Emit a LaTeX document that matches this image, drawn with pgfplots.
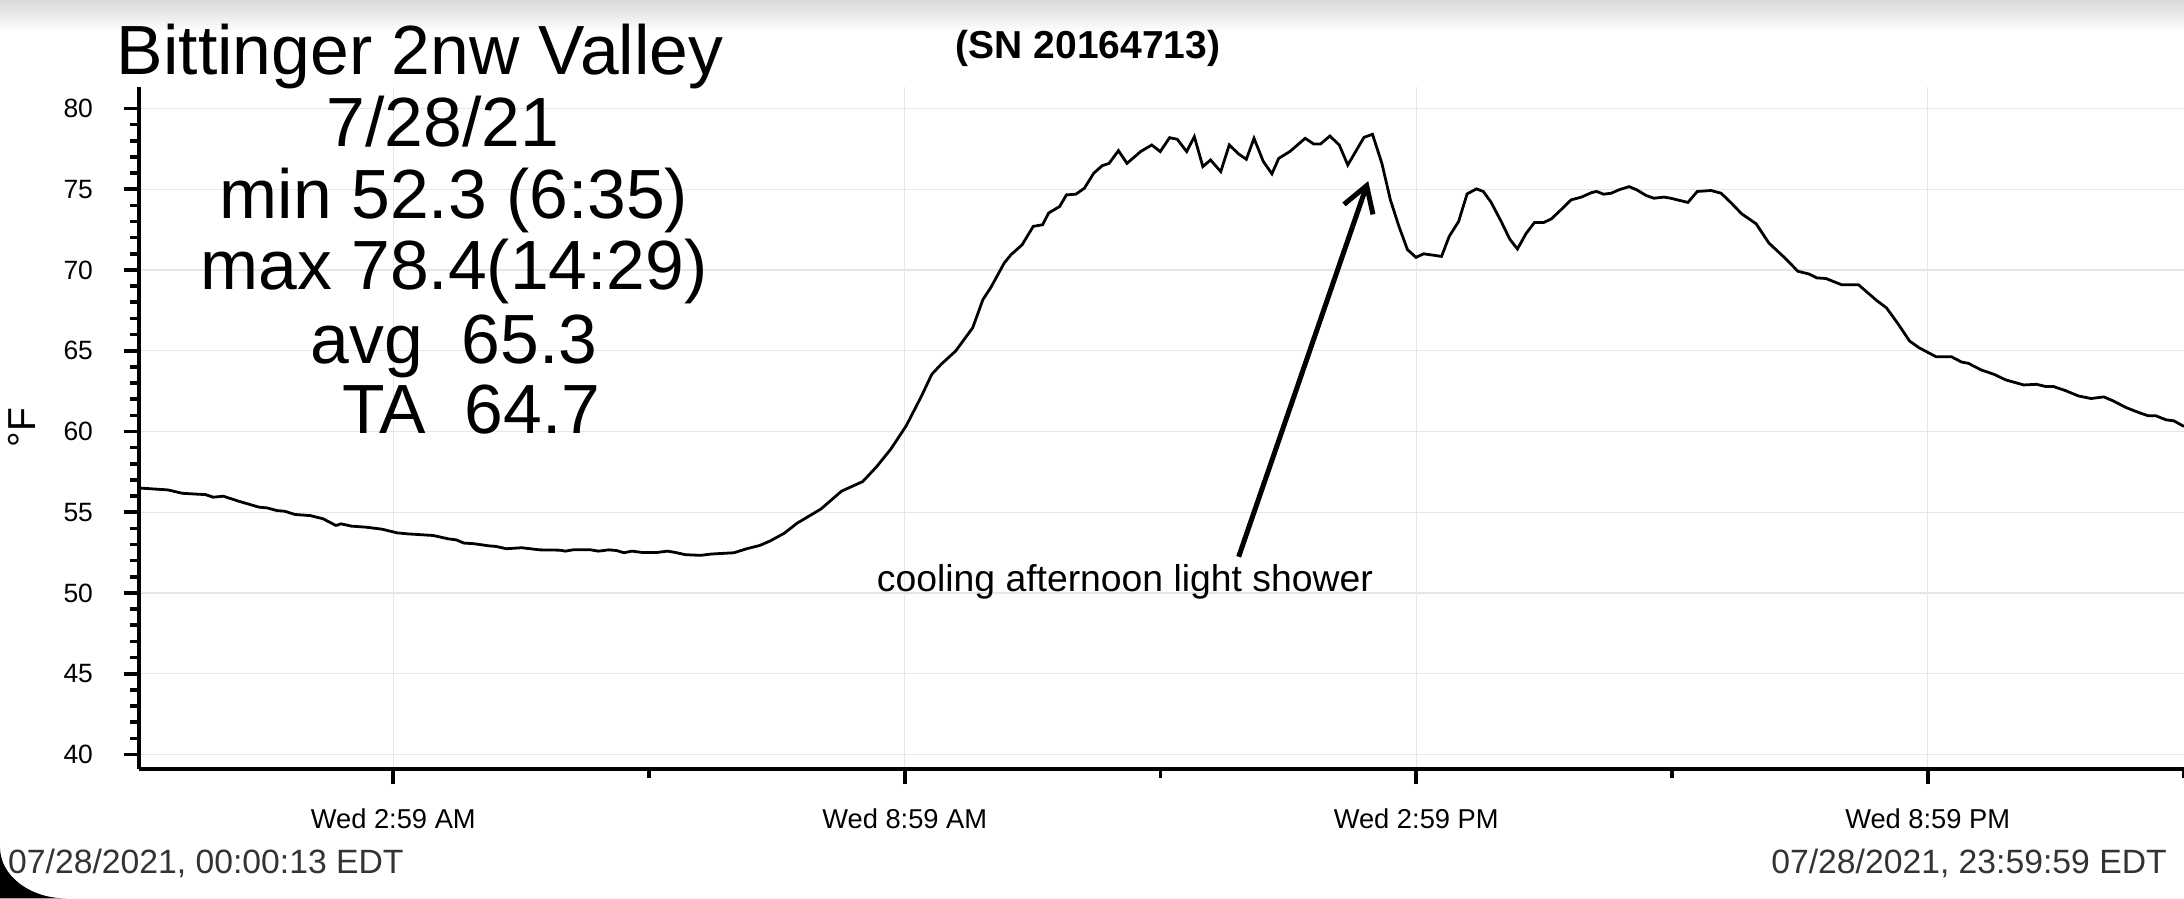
\documentclass[border=0pt]{standalone}
\usepackage{pgfplots}
\usepackage{pgfplotstable}
\pgfplotsset{compat=1.18}
\usepackage{fontspec}
\setmainfont{Liberation Sans}
\usetikzlibrary{arrows.meta}
\definecolor{gridgray}{HTML}{E6E6E6}
\definecolor{datetext}{HTML}{333333}

\pgfplotstableread{
h t
0.00 56.50
0.34 56.38
0.51 56.17
0.78 56.09
0.87 55.93
0.99 55.99
1.17 55.68
1.41 55.31
1.50 55.27
1.62 55.10
1.71 55.06
1.83 54.86
2.01 54.79
2.16 54.59
2.31 54.18
2.37 54.28
2.49 54.14
2.67 54.07
2.85 53.95
3.03 53.72
3.15 53.66
3.27 53.62
3.45 53.56
3.63 53.35
3.72 53.29
3.81 53.09
3.93 53.05
4.10 52.92
4.19 52.88
4.31 52.74
4.49 52.80
4.70 52.67
4.94 52.65
5.00 52.59
5.09 52.67
5.30 52.67
5.39 52.59
5.51 52.67
5.60 52.63
5.69 52.49
5.78 52.59
5.90 52.51
6.08 52.51
6.20 52.59
6.29 52.51
6.41 52.37
6.59 52.33
6.71 52.41
6.98 52.49
7.13 52.74
7.28 52.94
7.40 53.21
7.57 53.70
7.72 54.32
8.00 55.20
8.24 56.30
8.49 56.90
8.65 57.80
8.82 58.91
9.00 60.35
9.18 62.20
9.30 63.54
9.41 64.16
9.58 64.98
9.78 66.42
9.90 68.17
9.99 68.89
10.15 70.43
10.23 70.95
10.36 71.56
10.49 72.70
10.60 72.80
10.67 73.52
10.80 73.93
10.88 74.65
10.99 74.69
11.09 75.06
11.20 75.99
11.30 76.46
11.38 76.60
11.49 77.39
11.59 76.60
11.75 77.33
11.88 77.74
11.98 77.33
12.09 78.19
12.18 78.09
12.29 77.33
12.38 78.25
12.48 76.40
12.57 76.81
12.69 76.09
12.79 77.74
12.90 77.18
12.99 76.85
13.08 78.15
13.19 76.71
13.29 75.95
13.37 76.91
13.50 77.33
13.68 78.15
13.78 77.80
13.86 77.80
13.97 78.29
14.08 77.74
14.18 76.50
14.37 78.21
14.47 78.40
14.58 76.60
14.68 74.34
14.78 72.70
14.88 71.26
14.98 70.78
15.07 71.00
15.28 70.84
15.37 72.08
15.48 73.00
15.58 74.71
15.69 75.02
15.77 74.86
15.86 74.20
15.98 73.00
16.08 71.91
16.17 71.30
16.27 72.24
16.37 72.94
16.48 72.94
16.57 73.17
16.68 73.72
16.80 74.34
16.92 74.51
17.04 74.79
17.10 74.86
17.18 74.69
17.27 74.75
17.36 74.96
17.48 75.16
17.57 74.96
17.68 74.61
17.77 74.44
17.89 74.51
17.97 74.44
18.17 74.18
18.28 74.86
18.44 74.92
18.56 74.75
18.68 74.14
18.80 73.48
18.97 72.86
19.12 71.67
19.32 70.68
19.46 69.92
19.59 69.75
19.68 69.51
19.79 69.47
19.97 69.09
20.17 69.09
20.38 68.13
20.50 67.65
20.64 66.63
20.77 65.60
20.88 65.19
21.08 64.63
21.26 64.63
21.38 64.30
21.46 64.22
21.61 63.81
21.76 63.54
21.90 63.19
22.11 62.88
22.26 62.92
22.37 62.78
22.46 62.78
22.61 62.51
22.75 62.20
22.90 62.04
23.05 62.14
23.16 61.89
23.31 61.48
23.46 61.17
23.57 60.97
23.66 60.97
23.78 60.72
23.87 60.66
23.99 60.31
}\temps

\begin{document}
\begin{tikzpicture}
\path[use as bounding box] (0,0) rectangle (784pt,322.5pt);
\fill[white] (0,0) rectangle (784pt,322.5pt);
\shade[top color=black!15, bottom color=white] (0,311pt) rectangle (784pt,322.5pt);
\begin{axis}[
  at={(49.9pt,46.45pt)}, anchor=south west,
  scale only axis, width=734.1pt, height=244.95pt,
  xmin=0, xmax=23.99, ymin=39.1, ymax=81.35,
  axis x line=bottom, axis y line=left,
  axis line style={-, line width=1.4pt, black},
  ytick={40,45,...,80}, minor y tick num=4,
  xtick={2.983,8.983,14.983,20.983},
  xticklabels={Wed 2:59 AM, Wed 8:59 AM, Wed 2:59 PM, Wed 8:59 PM},
  minor xtick={5.983,11.983,17.983,23.983},
  tick align=outside,
  major tick length=5.5pt, minor tick length=3.2pt,
  tick style={black, line width=1.3pt},
  grid=major, major grid style={gridgray, line width=0.5pt},
  /pgf/number format/assume math mode=true,
  yticklabel style={font=\fontsize{9.5}{9.5}\selectfont, anchor=east, xshift=-7.5pt},
  xticklabel style={font=\fontsize{9.8}{10}\selectfont, anchor=base, yshift=-15.8pt},
]
\addplot[black, line width=1pt, no marks] table[x=h, y=t] {\temps};
\draw[line width=1.8pt, -{Straight Barb[length=9pt, width=11pt, line width=1.8pt]}]
  (axis cs:12.90,52.24) -- (axis cs:14.42,75.5);
\end{axis}
\node[anchor=base, inner sep=0, font=\fontsize{25}{25}\selectfont] at (150.8pt,295.6pt) {Bittinger 2nw Valley};
\node[anchor=base, inner sep=0, font=\fontsize{25}{25}\selectfont] at (159.0pt,269.85pt) {7/28/21};
\node[anchor=base, inner sep=0, font=\fontsize{25}{25}\selectfont] at (163.0pt,244.15pt) {min 52.3 (6:35)};
\node[anchor=base, inner sep=0, font=\fontsize{25}{25}\selectfont] at (163.0pt,218.4pt) {max 78.4(14:29)};
\node[anchor=base, inner sep=0, font=\fontsize{25}{25}\selectfont] at (163.0pt,192.1pt) {avg\ \ 65.3};
\node[anchor=base, inner sep=0, font=\fontsize{25}{25}\selectfont] at (169.2pt,167.0pt) {TA\ \ 64.7};
\node[anchor=base, inner sep=0, font=\fontsize{14}{14}\bfseries] at (390.6pt,301.6pt) {(SN 20164713)};
\node[anchor=base, inner sep=0, font=\fontsize{13.4}{14}\selectfont] at (403.8pt,110.2pt) {cooling afternoon light shower};
\node[rotate=90, inner sep=0, font=\fontsize{14}{14}\selectfont] at (8pt,169pt) {°F};
\node[anchor=base west, inner sep=0, text=datetext, font=\fontsize{12.1}{13}\selectfont] at (2.75pt,9pt) {07/28/2021, 00:00:13 EDT};
\node[anchor=base east, inner sep=0, text=datetext, font=\fontsize{12.1}{13}\selectfont] at (778pt,9pt) {07/28/2021, 23:59:59 EDT};
\fill[black] (0,0) -- (0,18.3pt) arc[start angle=180, end angle=270, x radius=23.8pt, y radius=18.3pt] -- cycle;
\end{tikzpicture}
\end{document}
